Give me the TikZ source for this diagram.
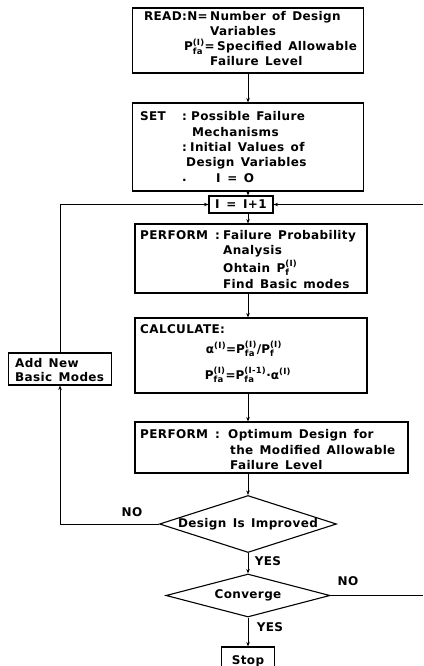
\documentclass[tikz,border=0pt]{standalone}
\usepackage{amsmath}
\usepackage{fontspec}
\setmainfont{DejaVu Sans}[LetterSpace=3,WordSpace=1.4]
\usetikzlibrary{shapes.geometric,arrows.meta}
\newcommand\scr[1]{\text{\fontsize{8.5}{9}\selectfont #1}}
\newcommand\PP[2]{$\text{P}_{\scr{#1}}^{\scr{#2}}$}
\newcommand\AL[1]{$\text{α}^{\scr{#1}}$}
\tikzset{
  lbl/.style={inner sep=0pt, font=\bfseries\fontsize{12}{14}\selectfont},
  txt/.style={lbl, anchor=base west},
  txe/.style={lbl, anchor=base east},
  ctr/.style={lbl, anchor=base},
  box/.style={draw, line width=1.1pt, inner sep=0pt},
  dia/.style={draw, line width=1.1pt, diamond, inner sep=0pt},
  arr/.style={-{Stealth[length=4.5pt,width=3.5pt]}, line width=1pt},
  ln/.style={line width=1pt}
}
\begin{document}
\begin{tikzpicture}[x=1pt,y=-1pt]
\useasboundingbox (0,0) rectangle (423,666);
\coordinate (spine) at (248,0);
\coordinate (redge) at (423,0);
% boxes
\node[box, minimum width=231pt, minimum height=65pt] (read) at (248,40.5) {};
\node[box, minimum width=231pt, minimum height=88pt] (set) at (248,147) {};
\node[box, minimum width=64pt, minimum height=17pt, font=\bfseries\fontsize{12}{14}\selectfont] (inc) at (241,204.5) {\textrm{I} = \textrm{I}+1};
\node[box, minimum width=232pt, minimum height=69pt] (p1) at (251,258.5) {};
\node[box, minimum width=232pt, minimum height=75pt] (calc) at (251,355.5) {};
\node[box, minimum width=103pt, minimum height=32pt] (add) at (60,369) {};
\node[box, minimum width=273pt, minimum height=51pt] (p2) at (271.5,447.5) {};
\node[dia, minimum width=177pt, minimum height=57pt] (d1) at (248,524) {};
\node[dia, minimum width=164pt, minimum height=43pt] (d2) at (248,595.5) {};
\node[box, minimum width=53pt, minimum height=26pt] (stop) at (248,660) {};
% diamond texts
\node[lbl] (d1t) at (d1) {Design Is Improved};
\node[lbl] (d2t) at (d2) {Converge};
% READ text
\node[txe] (r1a) at (208,21) {READ:N=};
\node[txt] (r1b) at (210,21) {Number of Design};
\node[txt] (r2) at (210,36) {Variables};
\node[txe] (r3a) at (215,51) {\PP{fa}{(I)}=};
\node[txt] (r3b) at (217,51) {Specified Allowable};
\node[txt] (r4) at (210,66) {Failure Level};
% SET text
\node[txt] (s1a) at (140,121) {SET};
\node[txt] (s1b) at (182,121) {:};
\node[txt] (s1c) at (191,121) {Possible Failure};
\node[txt] (s2) at (192,136) {Mechanisms};
\node[txt] (s3a) at (182,151) {:};
\node[txt] (s3b) at (190,151) {Initial Values of};
\node[txt] (s4) at (186,166) {Design Variables};
\node[txt] (s5a) at (182,181) {.};
\node[txt] (s5b) at (216,182) {\textrm{I} = O};
% PERFORM 1 text
\node[txt] (a1a) at (140,239) {PERFORM};
\node[txt] (a1b) at (215,239) {:};
\node[txt] (a1c) at (223,239) {Failure Probability};
\node[txt] (a2) at (223,254) {Analysis};
\node[txt] (a3) at (223,272) {Ohtain \PP{f}{(I)}};
\node[txt] (a4) at (223,288) {Find Basic modes};
% CALCULATE text
\node[txt] (c1) at (140,333) {CALCULATE:};
\node[ctr] (c2) at (244,353) {\AL{(I)}=\PP{fa}{(I)}/\PP{f}{(I)}};
\node[ctr] (c3) at (248,379) {\PP{fa}{(I)}=\PP{fa}{(I-1)}·\AL{(I)}};
% ADD text
\node[txt] (b1) at (15,367) {Add New};
\node[txt] (b2) at (15,381) {Basic Modes};
% PERFORM 2 text
\node[txt] (e1a) at (140,438) {PERFORM};
\node[txt] (e1b) at (215,438) {:};
\node[txt] (e1c) at (228,438) {Optimum Design for};
\node[txt] (e2) at (230,454) {the Modified Allowable};
\node[txt] (e3) at (230,469) {Failure Level};
% Stop text
\node[ctr] (st) at (248,664) {Stop};
% labels
\node[lbl] (no1) at (132,512) {NO};
\node[lbl] (yes1) at (268,561) {YES};
\node[lbl] (no2) at (348,581) {NO};
\node[lbl] (yes2) at (270,627) {YES};
% connectors
\draw[arr] (read.south -| spine) -- (set.north -| spine);
\draw[arr] (set.south -| spine) -- (inc.north -| spine);
\draw[arr] (inc.south -| spine) -- (p1.north -| spine);
\draw[arr] (p1.south -| spine) -- (calc.north -| spine);
\draw[arr] (calc.south -| spine) -- (p2.north -| spine);
\draw[arr] (p2.south -| spine) -- (d1.north);
\draw[arr] (d1.south) -- (d2.north);
\draw[arr] (d2.south) -- (stop.north);
\draw[arr] (d1.west) -| (add.south);
\draw[arr] (add.north) |- (inc.west);
\draw[arr] (inc.east -| redge) -- (inc.east);
\draw[ln] (d2.east) -- (d2.east -| redge);
\end{tikzpicture}
\end{document}
